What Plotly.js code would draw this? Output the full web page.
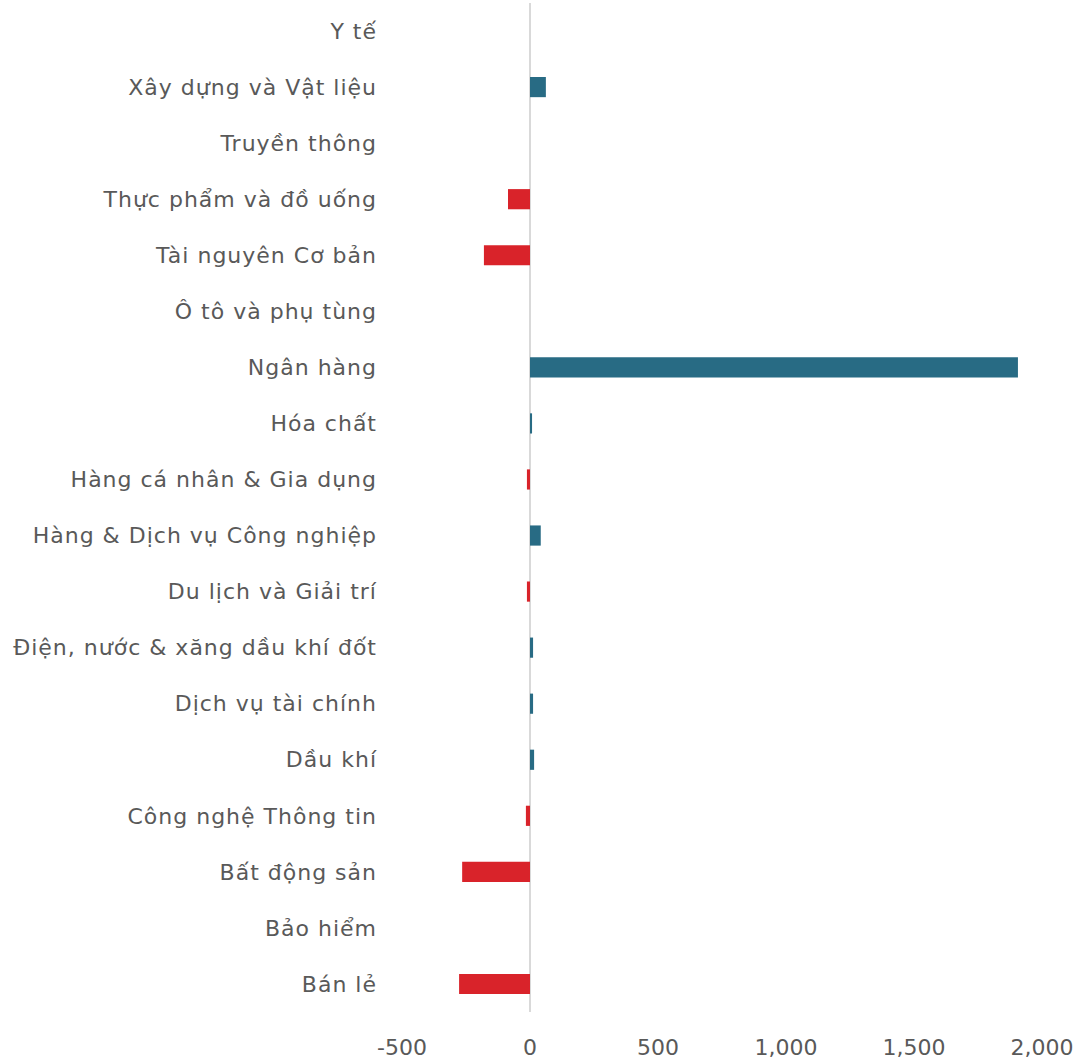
<!DOCTYPE html>
<html>
<head>
<meta charset="utf-8">
<script src="https://cdn.plot.ly/plotly-3.0.1.min.js"></script>
<style>
html,body{margin:0;padding:0;background:#fff;}
#chart{width:1084px;height:1062px;}
#chart .ytick text{letter-spacing:1px;}
</style>
</head>
<body>
<div id="chart"></div>
<script>
const sectors = [
  "Y tế",
  "Xây dựng và Vật liệu",
  "Truyền thông",
  "Thực phẩm và đồ uống",
  "Tài nguyên Cơ bản",
  "Ô tô và phụ tùng",
  "Ngân hàng",
  "Hóa chất",
  "Hàng cá nhân & Gia dụng",
  "Hàng & Dịch vụ Công nghiệp",
  "Du lịch và Giải trí",
  "Điện, nước & xăng dầu khí đốt",
  "Dịch vụ tài chính",
  "Dầu khí",
  "Công nghệ Thông tin",
  "Bất động sản",
  "Bảo hiểm",
  "Bán lẻ"
];
const values = [0, 62, 0, -86, -180, 0, 1906, 8, -12, 42, -12, 12, 12, 16, -16, -265, 0, -277];
const tickVals = [-500, 0, 500, 1000, 1500, 2000];
const tickText = ["-500", "0", "500", "1,000", "1,500", "2,000"];

const posColor = "#286b84";
const negColor = "#d9232a";

Plotly.newPlot("chart", [{
  type: "bar",
  orientation: "h",
  y: sectors,
  x: values,
  width: 0.36,
  marker: { color: values.map(v => v < 0 ? negColor : posColor) },
  hoverinfo: "x+y"
}], {
  width: 1084,
  height: 1062,
  margin: { l: 402, r: 42, t: 3, b: 50 },
  paper_bgcolor: "#fff",
  plot_bgcolor: "#fff",
  showlegend: false,
  font: { family: "'DejaVu Sans', sans-serif", size: 22, color: "#595959" },
  xaxis: {
    range: [-500, 2000],
    tickvals: tickVals,
    ticktext: tickText,
    showgrid: false,
    zeroline: true,
    zerolinecolor: "#d9d9d9",
    zerolinewidth: 2,
    showline: false,
    ticks: "",
    ticklabelstandoff: 20,
    automargin: false,
    fixedrange: true
  },
  yaxis: {
    type: "category",
    autorange: "reversed",
    showgrid: false,
    zeroline: false,
    showline: false,
    ticks: "",
    ticklabelstandoff: 24,
    automargin: false,
    fixedrange: true
  }
}, { displayModeBar: false, staticPlot: true });
</script>
</body>
</html>
